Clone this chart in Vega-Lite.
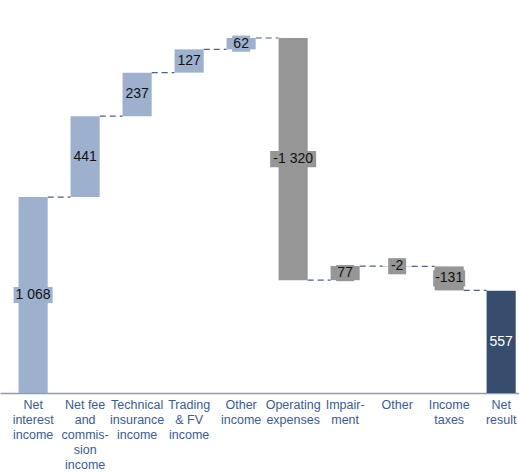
{
  "$schema": "https://vega.github.io/schema/vega-lite/v6.json",
  "width": 519,
  "height": 393,
  "autosize": {"type": "none"},
  "padding": {"left": 0, "top": 0, "right": 0, "bottom": 79},
  "config": {"view": {"stroke": null}, "font": "Liberation Sans"},
  "datasets": {
    "bars": [
      {"cat": "Net|interest|income", "label": "1 068", "start": 0, "end": 1068, "type": "inc"},
      {"cat": "Net fee|and|commis-|sion|income", "label": "441", "start": 1068, "end": 1509, "type": "inc"},
      {"cat": "Technical|insurance|income", "label": "237", "start": 1509, "end": 1746, "type": "inc"},
      {"cat": "Trading|& FV|income", "label": "127", "start": 1746, "end": 1873, "type": "inc"},
      {"cat": "Other|income", "label": "62", "start": 1873, "end": 1935, "type": "inc"},
      {"cat": "Operating|expenses", "label": "-1 320", "start": 1935, "end": 615, "type": "exp"},
      {"cat": "Impair-|ment", "label": "77", "start": 615, "end": 692, "type": "exp"},
      {"cat": "Other", "label": "-2", "start": 692, "end": 690, "type": "exp"},
      {"cat": "Income|taxes", "label": "-131", "start": 690, "end": 559, "type": "exp"},
      {"cat": "Net|result", "label": "557", "start": 0, "end": 557, "type": "tot"}
    ],
    "links": [
      {"from": "Net|interest|income", "to": "Net fee|and|commis-|sion|income", "level": 1068},
      {"from": "Net fee|and|commis-|sion|income", "to": "Technical|insurance|income", "level": 1509},
      {"from": "Technical|insurance|income", "to": "Trading|& FV|income", "level": 1746},
      {"from": "Trading|& FV|income", "to": "Other|income", "level": 1873},
      {"from": "Other|income", "to": "Operating|expenses", "level": 1935},
      {"from": "Operating|expenses", "to": "Impair-|ment", "level": 615},
      {"from": "Impair-|ment", "to": "Other", "level": 692},
      {"from": "Other", "to": "Income|taxes", "level": 690},
      {"from": "Income|taxes", "to": "Net|result", "level": 559}
    ]
  },
  "encoding": {
    "x": {
      "field": "cat",
      "type": "nominal",
      "sort": null,
      "scale": {
        "domain": ["Net|interest|income", "Net fee|and|commis-|sion|income", "Technical|insurance|income", "Trading|& FV|income", "Other|income", "Operating|expenses", "Impair-|ment", "Other", "Income|taxes", "Net|result"],
        "paddingInner": 0.44,
        "paddingOuter": 0.21,
        "align": 0.85
      },
      "axis": {
        "title": null,
        "labelAngle": 0,
        "labelExpr": "split(datum.label, '|')",
        "labelFontSize": 12.5,
        "labelLineHeight": 15,
        "labelColor": "#3b5b95",
        "labelPadding": 5,
        "labelLimit": 0,
        "labelBaseline": "top",
        "ticks": false,
        "domainColor": "#8e9cb4",
        "domainWidth": 1.5
      }
    }
  },
  "layer": [
    {
      "data": {"name": "links"},
      "mark": {"type": "rule", "strokeDash": [6, 4], "color": "#4d6180", "strokeWidth": 1.2},
      "encoding": {
        "x": {"field": "from", "type": "nominal", "bandPosition": 1},
        "x2": {"field": "to", "bandPosition": 0},
        "y": {"field": "level", "type": "quantitative", "scale": {"domain": [0, 2142]}, "axis": null}
      }
    },
    {
      "data": {"name": "bars"},
      "mark": {"type": "bar"},
      "encoding": {
        "y": {"field": "start", "type": "quantitative", "scale": {"domain": [0, 2142]}, "axis": null},
        "y2": {"field": "end"},
        "color": {"field": "type", "type": "nominal", "scale": {"domain": ["inc", "exp", "tot"], "range": ["#9db0ce", "#969696", "#374d6d"]}, "legend": null}
      }
    },
    {
      "data": {"name": "bars"},
      "transform": [
        {"calculate": "(datum.start + datum.end) / 2", "as": "mid"},
        {"calculate": "datum.mid - 44", "as": "lo"},
        {"calculate": "datum.mid + 44", "as": "hi"},
        {"calculate": "length(datum.label) * 7 + 4", "as": "bw"}
      ],
      "mark": {"type": "bar", "width": {"expr": "datum.bw"}},
      "encoding": {
        "y": {"field": "lo", "type": "quantitative", "scale": {"domain": [0, 2142]}, "axis": null},
        "y2": {"field": "hi"},
        "color": {"field": "type", "type": "nominal", "scale": {"domain": ["inc", "exp", "tot"], "range": ["#9db0ce", "#969696", "#374d6d"]}, "legend": null}
      }
    },
    {
      "data": {"name": "bars"},
      "transform": [
        {"calculate": "(datum.start + datum.end) / 2", "as": "mid"}
      ],
      "mark": {"type": "text", "fontSize": 14, "baseline": "middle", "align": "center"},
      "encoding": {
        "y": {"field": "mid", "type": "quantitative", "scale": {"domain": [0, 2142]}, "axis": null},
        "text": {"field": "label"},
        "color": {"condition": {"test": "datum.type === 'tot'", "value": "#ffffff"}, "value": "#111111"}
      }
    }
  ]
}
